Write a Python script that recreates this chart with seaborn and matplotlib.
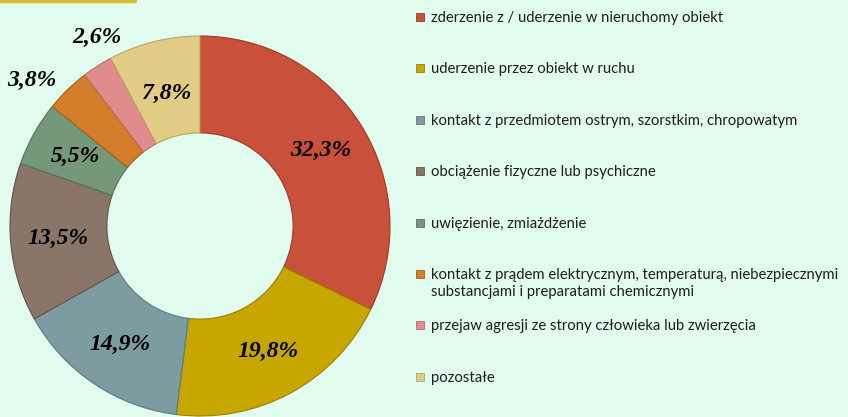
import numpy as np
import matplotlib
matplotlib.use("Agg")
import matplotlib.pyplot as plt
import seaborn as sns
from matplotlib.patches import Rectangle
from matplotlib.lines import Line2D

## DATA
categories = [
    "zderzenie z / uderzenie w nieruchomy obiekt",
    "uderzenie przez obiekt w ruchu",
    "kontakt z przedmiotem ostrym, szorstkim, chropowatym",
    "obciążenie fizyczne lub psychiczne",
    "uwięzienie, zmiażdżenie",
    "kontakt z prądem elektrycznym, temperaturą, niebezpiecznymi\nsubstancjami i preparatami chemicznymi",
    "przejaw agresji ze strony człowieka lub zwierzęcia",
    "pozostałe",
]
shares = [32.3, 19.8, 14.9, 13.5, 5.5, 3.8, 2.6, 7.8]
colors = ["#C9503A", "#C8A600", "#7C9CA2", "#8A7569", "#76987A", "#D47E2C", "#E08C8C", "#E0CC84"]
edges = ["#9E3A28", "#9A8000", "#5E7A80", "#65524A", "#56745A", "#A45E1C", "#B86A6A", "#B8A460"]

# label placement: (radius, angle shift in degrees); small slices sit outside the ring
label_pos = [(0.75, 0), (0.75, 0), (0.75, 0), (0.75, 0), (0.75, 0), (1.17, 5), (1.13, -4), (0.72, 0)]

bg = "#E1FCEF"

## PLOT
sns.set_style("white")
plt.rcParams["font.family"] = ["Lato", "DejaVu Sans"]

fig = plt.figure(figsize=(8.48, 4.17), dpi=100, facecolor=bg)
ax = fig.add_axes([10 / 848, 1 / 417, 380 / 848, 380 / 417])
ax.set_facecolor(bg)

wedges, _ = ax.pie(shares, colors=colors, startangle=90, counterclock=False,
                   radius=1, wedgeprops=dict(width=0.51, linewidth=0.8))
for w, ec in zip(wedges, edges):
    w.set_edgecolor(ec)

ax.set_xlim(-1, 1)
ax.set_ylim(-1, 1)
ax.set_aspect("equal")
ax.axis("off")

# value labels
for w, v, (r, shift) in zip(wedges, shares, label_pos):
    ang = np.deg2rad((w.theta1 + w.theta2) / 2 + shift)
    txt = f"{v:.1f}%".replace(".", ",")
    ax.text(r * np.cos(ang), r * np.sin(ang), txt, ha="center", va="center",
            fontsize=17, fontweight="bold", fontstyle="italic",
            family="Liberation Serif", color="black", clip_on=False)

# legend, drawn by hand so the two-line entry keeps the regular row step
y0 = 17
step = 51.4
for i, (lab, c, ec) in enumerate(zip(categories, colors, edges)):
    y = y0 + i * step
    fig.patches.append(Rectangle((416 / 848, 1 - (y + 4) / 417), 8 / 848, 8 / 417,
                                 transform=fig.transFigure, facecolor=c,
                                 edgecolor=ec, linewidth=0.6))
    fig.text(431 / 848, 1 - (y - 6) / 417, lab, ha="left", va="top",
             fontsize=10.7, color="#1e1e1e", linespacing=1.3)

# yellow border remnant at top-left
fig.add_artist(Line2D([0, 135 / 848], [1 - 1 / 417, 1 - 1 / 417], color="#D4C030",
                      linewidth=2.5, transform=fig.transFigure))

fig.savefig("out.png", dpi=100, facecolor=bg)
